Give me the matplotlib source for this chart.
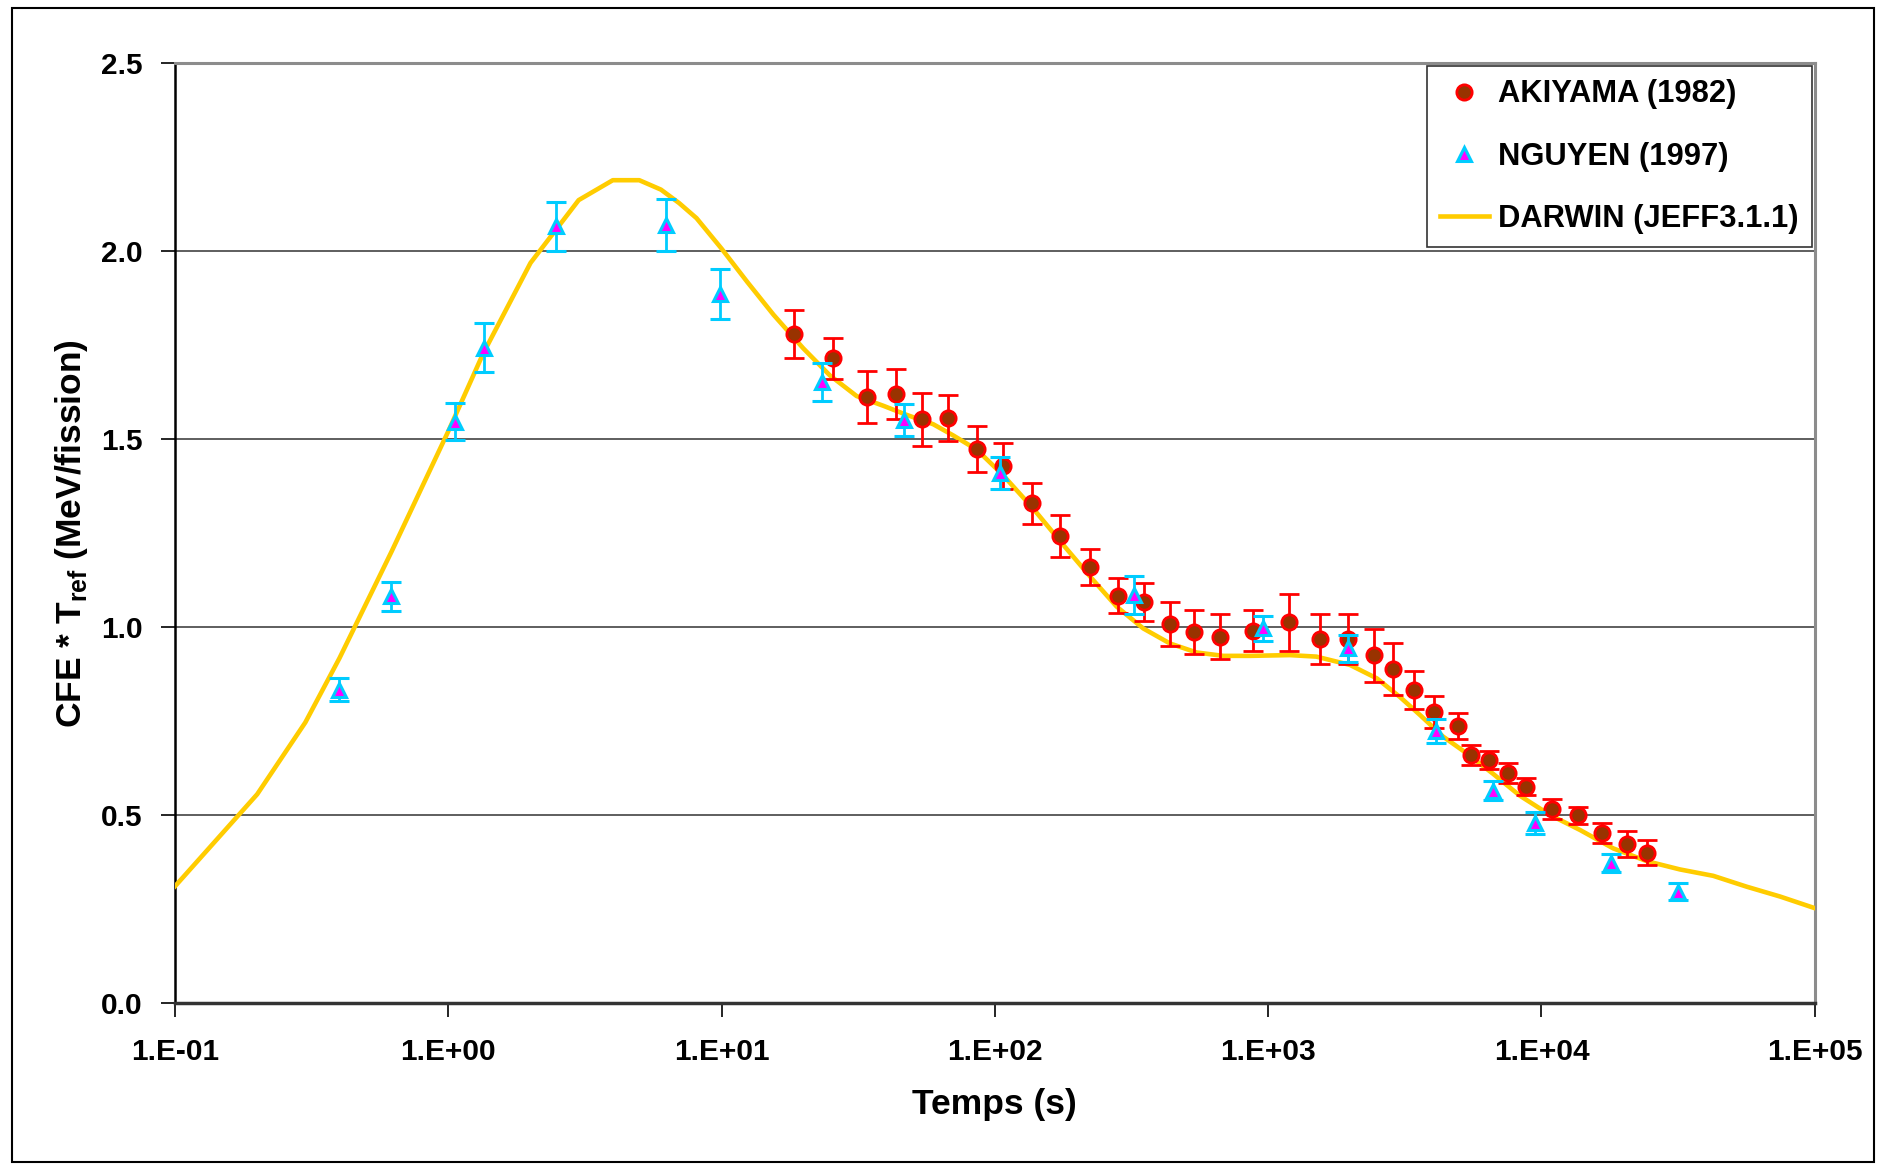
import numpy as np
import matplotlib
matplotlib.use("Agg")
import matplotlib.pyplot as plt
from matplotlib.lines import Line2D
from matplotlib.patches import Rectangle

plt.rcParams['font.family'] = ['Liberation Sans', 'DejaVu Sans']
plt.rcParams['mathtext.fontset'] = 'custom'
plt.rcParams['mathtext.bf'] = 'Liberation Sans:bold'
plt.rcParams['mathtext.rm'] = 'Liberation Sans:bold'

# --- AKIYAMA (1982) : time (s), value, error
aki_t = [18.4, 25.6, 34.0, 43.6, 54.2, 67.5, 86.2, 107.4, 137, 173, 223, 283, 351,
         438, 537, 668, 880, 1194, 1552, 1960, 2440, 2870, 3430, 4045, 4965, 5520,
         6430, 7560, 8770, 10900, 13600, 16700, 20500, 24300]
aki_v = [1.780, 1.715, 1.613, 1.620, 1.553, 1.556, 1.473, 1.429, 1.330, 1.243, 1.160,
         1.084, 1.068, 1.008, 0.988, 0.975, 0.991, 1.013, 0.969, 0.969, 0.925, 0.889,
         0.833, 0.774, 0.738, 0.660, 0.647, 0.612, 0.576, 0.516, 0.500, 0.452, 0.424, 0.401]
aki_err = [0.065, 0.054, 0.069, 0.066, 0.070, 0.061, 0.061, 0.060, 0.055, 0.055, 0.047,
           0.046, 0.050, 0.058, 0.058, 0.059, 0.054, 0.075, 0.066, 0.066, 0.070, 0.070,
           0.050, 0.042, 0.035, 0.027, 0.024, 0.027, 0.022, 0.026, 0.023, 0.027, 0.035, 0.034]

# --- NGUYEN (1997)
ngu_t = [0.400, 0.618, 1.058, 1.35, 2.47, 6.24, 9.89, 23.4, 46.7, 104.7, 324, 960,
         1963, 4110, 6660, 9440, 18000, 31600]
ngu_v = [0.834, 1.082, 1.547, 1.743, 2.066, 2.070, 1.886, 1.653, 1.551, 1.411, 1.086,
         0.997, 0.944, 0.724, 0.565, 0.479, 0.372, 0.297]
ngu_err = [0.031, 0.038, 0.049, 0.065, 0.066, 0.068, 0.066, 0.051, 0.042, 0.043, 0.050,
           0.033, 0.035, 0.031, 0.025, 0.029, 0.024, 0.022]

# --- DARWIN (JEFF3.1.1) calculation
dar_t = [0.1, 0.2, 0.3, 0.4, 0.62, 1.0, 1.34, 2.0, 3.0, 4.0, 5.0, 6.0, 7.0, 8.1, 10,
         12.4, 15.5, 19.9, 24.9, 31.2, 39.1, 47.5, 59.5, 70.5, 86, 107, 138, 178, 223,
         279, 349, 437, 547, 685, 858, 1200, 1500, 1990, 2500, 3030, 3590, 4370, 5320,
         6660, 8340, 10740, 13830, 18300, 24300, 32100, 42500, 56400, 74600, 100000]
dar_v = [0.311, 0.556, 0.747, 0.918, 1.201, 1.521, 1.727, 1.969, 2.136, 2.189, 2.189,
         2.164, 2.128, 2.088, 2.007, 1.919, 1.831, 1.742, 1.670, 1.615, 1.589, 1.565,
         1.540, 1.510, 1.472, 1.405, 1.316, 1.219, 1.135, 1.055, 0.997, 0.957, 0.933,
         0.924, 0.924, 0.926, 0.922, 0.900, 0.864, 0.815, 0.767, 0.709, 0.665, 0.610,
         0.552, 0.501, 0.461, 0.412, 0.378, 0.356, 0.339, 0.310, 0.284, 0.253]

x_ticks = [1e-1, 1e0, 1e1, 1e2, 1e3, 1e4, 1e5]
x_labels = ['1.E-01', '1.E+00', '1.E+01', '1.E+02', '1.E+03', '1.E+04', '1.E+05']
y_ticks = [0.0, 0.5, 1.0, 1.5, 2.0, 2.5]

fig = plt.figure(figsize=(18.81, 11.65), dpi=100)
ax = fig.add_axes([0.0930, 0.1388, 0.8718, 0.8069])

# darwin curve
ax.plot(dar_t, dar_v, color='#FFCC00', lw=3.3, zorder=3, solid_joinstyle='round')

# akiyama points
ax.errorbar(aki_t, aki_v, yerr=aki_err, fmt='o', ms=11, mfc='#993300', mec='#FF0000',
            mew=2, ecolor='#FF0000', elinewidth=2, capsize=7.5, capthick=2, zorder=4)
# nguyen points
ax.errorbar(ngu_t, ngu_v, yerr=ngu_err, fmt='^', ms=10, mfc='#FF00FF', mec='#00CCFF',
            mew=2.2, ecolor='#00CCFF', elinewidth=2, capsize=7.5, capthick=2, zorder=5)

ax.set_xscale('log')
ax.set_xlim(1e-1, 1e5)
ax.set_ylim(0, 2.5)
ax.set_xticks(x_ticks)
ax.set_xticklabels(x_labels)
ax.minorticks_off()
ax.set_yticks(y_ticks)
ax.set_yticklabels(['%.1f' % v for v in y_ticks])

ax.yaxis.grid(True, color='#333333', lw=1.1)
ax.set_axisbelow(True)

ax.tick_params(axis='both', direction='out', length=10, width=1.2, color='black',
               labelsize=21.5)
ax.tick_params(axis='x', pad=15)
ax.tick_params(axis='y', pad=13)
for lab in ax.get_xticklabels() + ax.get_yticklabels():
    lab.set_fontweight('bold')

ax.spines['left'].set_color('black')
ax.spines['left'].set_linewidth(1.8)
ax.spines['bottom'].set_color('#333333')
ax.spines['bottom'].set_linewidth(2.5)
for s in ['top', 'right']:
    ax.spines[s].set_color('#8c8c8c')
    ax.spines[s].set_linewidth(2.2)

ax.set_xlabel('Temps (s)', fontsize=25.5, fontweight='bold', labelpad=16)
ax.set_ylabel(r'CFE * T$_{\mathbf{ref}}$ (MeV/fission)', fontsize=25.5,
              fontweight='bold', labelpad=8)

handles = [
    Line2D([], [], ls='none', marker='o', ms=11, mfc='#993300', mec='#FF0000', mew=2),
    Line2D([], [], ls='none', marker='^', ms=10, mfc='#FF00FF', mec='#00CCFF', mew=2.2),
    Line2D([], [], color='#FFCC00', lw=3.3),
]
leg = ax.legend(handles, ['AKIYAMA (1982)', 'NGUYEN (1997)', 'DARWIN (JEFF3.1.1)'],
                loc='upper right', bbox_to_anchor=(1.0, 1.0), borderaxespad=0.1,
                fancybox=False, framealpha=1, edgecolor='#333333',
                prop={'weight': 'bold', 'size': 22.2}, handlelength=1.6,
                handletextpad=0.3, labelspacing=1.05, borderpad=0.42)
leg.get_frame().set_linewidth(1.2)

# outer frame of the figure
fig.patches.append(Rectangle((0.0064, 0.003), 0.990, 0.990, transform=fig.transFigure,
                             fill=False, edgecolor='black', lw=1.5))

fig.savefig('out.png', dpi=100)
